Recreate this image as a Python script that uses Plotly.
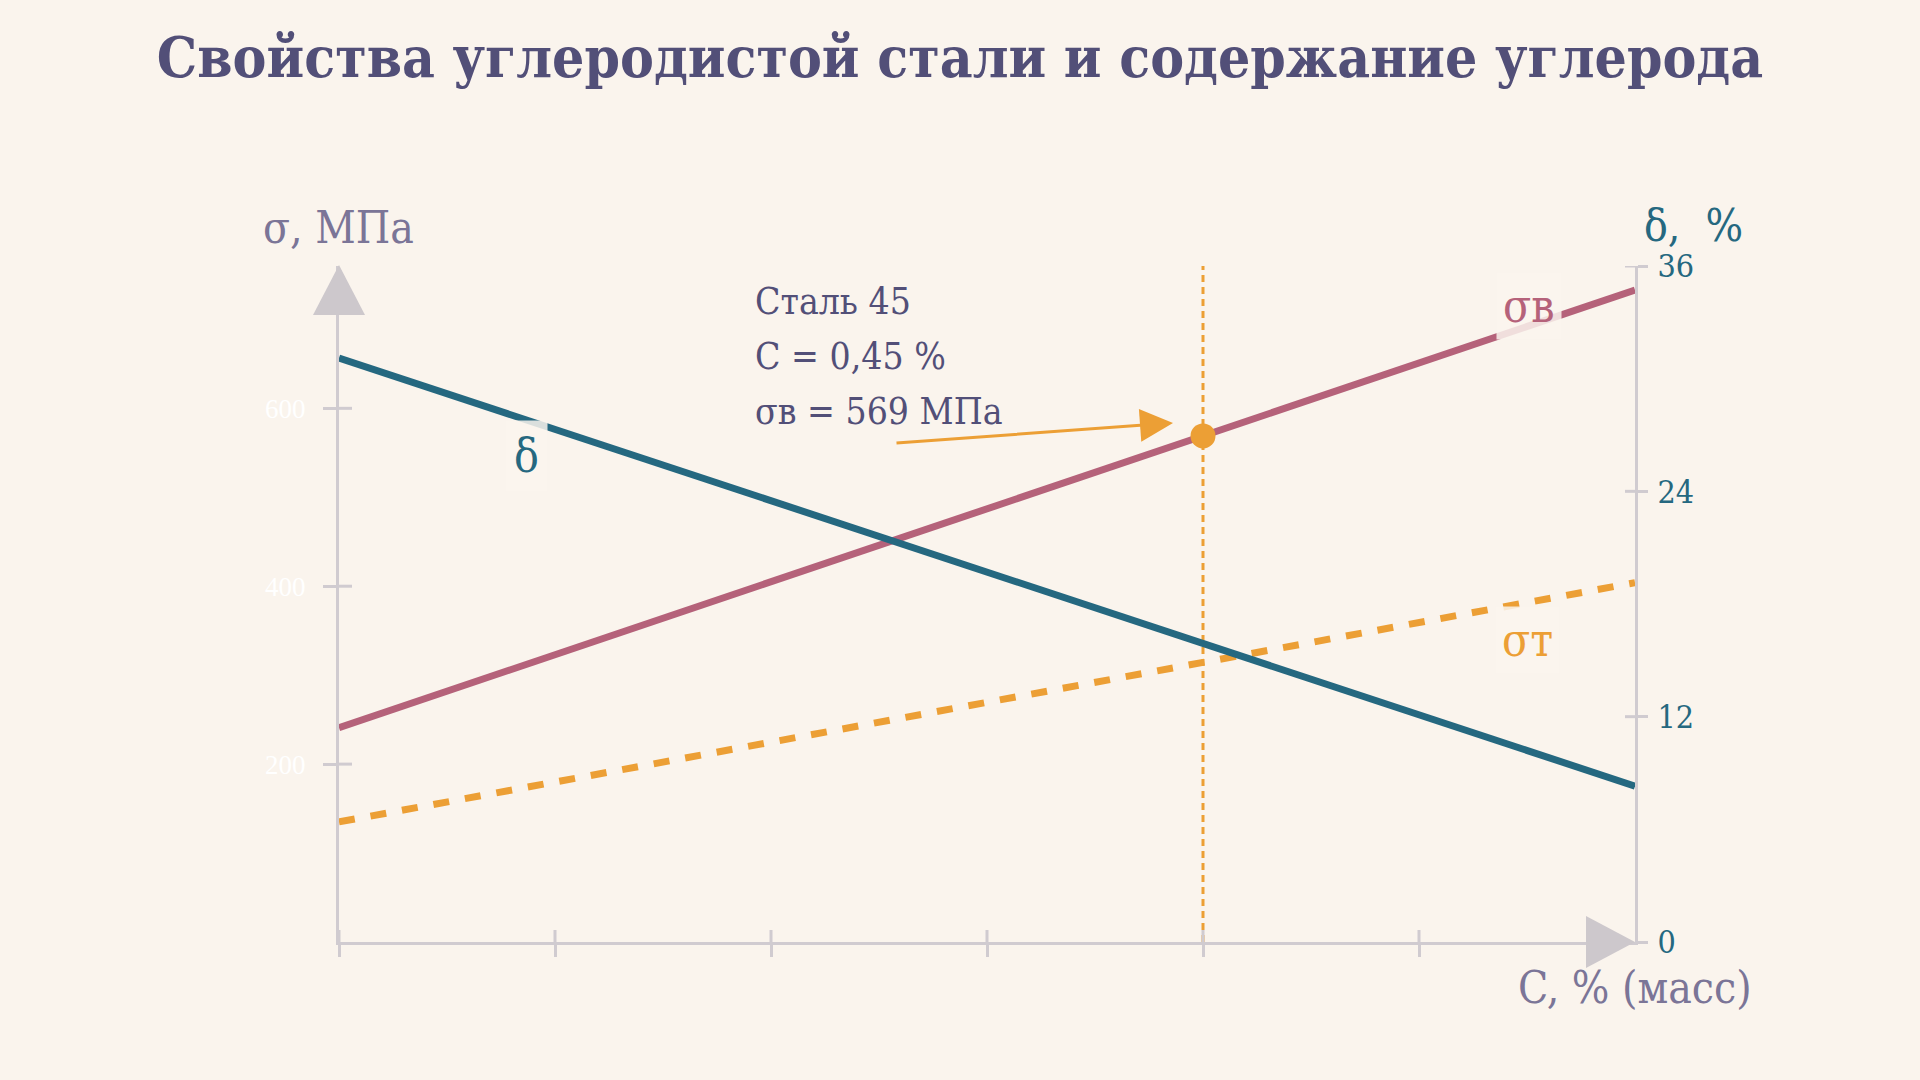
import plotly.graph_objects as go

# ---------------- data ----------------
carbon = [0.05, 0.15, 0.25, 0.35, 0.45, 0.55, 0.65]          # C, % (mass)
sigma_b = [241, 323, 405, 487, 569, 651, 733]                 # ultimate strength, MPa
sigma_t = [135, 180, 225, 270, 315, 359, 404]                 # yield strength, MPa
delta = [31.1, 27.3, 23.5, 19.7, 15.9, 12.1, 8.3]             # elongation, %

steel_c = [0.45]
steel_sb = [569]

left_ticks = [200, 400, 600]
right_ticks = [0, 12, 24, 36]
x_ticks = [0.05, 0.15, 0.25, 0.35, 0.45, 0.55]

title_text = "Свойства углеродистой стали и содержание углерода"

# ---------------- style ----------------
BG = "#faf4ed"
GRID = "#d0cbd0"
ARROW = "#cdc8cc"
TITLE = "#524f78"
AXT = "#7b7597"
TEAL = "#256880"
PINK = "#b5627a"
ORANGE = "#ec9f35"
SERIF = "DejaVu Serif Condensed, DejaVu Serif, serif"

W, H = 1920, 1080
L, R, T, B = 339, 285, 266, 138
PW, PH = W - L - R, H - T - B


def px(xp):
    return (xp - L) / PW


def py(yp):
    return (H - B - yp) / PH


fig = go.Figure()

fig.add_trace(go.Scatter(x=carbon, y=sigma_t, mode="lines", name="σт",
                         line=dict(color=ORANGE, width=7, dash="16px,16px"),
                         yaxis="y", hoverinfo="skip"))
fig.add_trace(go.Scatter(x=carbon, y=sigma_b, mode="lines", name="σв",
                         line=dict(color=PINK, width=7),
                         yaxis="y", hoverinfo="skip"))
fig.add_trace(go.Scatter(x=carbon, y=delta, mode="lines", name="δ",
                         line=dict(color=TEAL, width=7),
                         yaxis="y2", hoverinfo="skip"))
fig.add_trace(go.Scatter(x=steel_c, y=steel_sb, mode="markers", name="Сталь 45",
                         marker=dict(color=ORANGE, size=25),
                         yaxis="y", hoverinfo="skip"))

shapes = []
# vertical reference line at C = 0.45
shapes.append(dict(type="line", xref="x", yref="paper", x0=steel_c[0], x1=steel_c[0],
                   y0=0, y1=1, layer="below",
                   line=dict(color=ORANGE, width=3, dash="7px,5px")))
# inner halves of ticks
for v in left_ticks:
    shapes.append(dict(type="line", xref="paper", yref="y", xsizemode="pixel", xanchor=0,
                       x0=0, x1=13, y0=v, y1=v, line=dict(color=GRID, width=3)))
for v in right_ticks[1:]:
    shapes.append(dict(type="line", xref="paper", yref="y2", xsizemode="pixel", xanchor=1,
                       x0=-10, x1=0, y0=v, y1=v, line=dict(color=GRID, width=3)))
for v in x_ticks:
    shapes.append(dict(type="line", xref="x", yref="paper", ysizemode="pixel", yanchor=0,
                       y0=0, y1=12, x0=v, x1=v, line=dict(color=GRID, width=3)))
# arrowheads of axes
shapes.append(dict(type="path", xref="paper", yref="paper", xsizemode="pixel", ysizemode="pixel",
                   xanchor=0, yanchor=1, path="M-26,-49 L26,-49 L0,1 Z",
                   fillcolor=ARROW, line=dict(width=0)))
shapes.append(dict(type="path", xref="paper", yref="paper", xsizemode="pixel", ysizemode="pixel",
                   xanchor=1, yanchor=0, path="M-49,-26 L-49,26 L0,0 Z",
                   fillcolor=ARROW, line=dict(width=0)))

ann = []
# axis titles
ann.append(dict(text="σ, МПа", xref="paper", yref="paper", x=px(338), y=py(227),
                xanchor="center", yanchor="middle", showarrow=False,
                font=dict(family=SERIF, size=44, color=AXT)))
ann.append(dict(text="δ,  %", xref="paper", yref="paper", x=px(1693), y=py(226),
                xanchor="center", yanchor="middle", showarrow=False,
                font=dict(family=SERIF, size=44, color=TEAL)))
ann.append(dict(text="C, % (масс)", xref="paper", yref="paper", x=px(1754), y=py(987),
                xanchor="right", yanchor="middle", showarrow=False,
                font=dict(family=SERIF, size=44, color=AXT)))
# series labels
lab_bg = "rgba(250,244,237,0.85)"
ann.append(dict(text="δ", xref="x", yref="y2", x=0.137, y=25.9, showarrow=False,
                font=dict(family=SERIF, size=46, color=TEAL), bgcolor=lab_bg, borderpad=8))
ann.append(dict(text="σв", xref="x", yref="y", x=0.601, y=715, showarrow=False,
                font=dict(family=SERIF, size=46, color=PINK), bgcolor=lab_bg, borderpad=6))
ann.append(dict(text="σт", xref="x", yref="y", x=0.600, y=339, showarrow=False,
                font=dict(family=SERIF, size=46, color=ORANGE), bgcolor=lab_bg, borderpad=6))
# callout text
for txt, yy in [("Сталь 45", 301), ("С = 0,45 %", 356), ("σв = 569 МПа", 411)]:
    ann.append(dict(text=txt, xref="paper", yref="paper", x=px(753), y=py(yy),
                    xanchor="left", yanchor="middle", showarrow=False,
                    font=dict(family=SERIF, size=37, color=TITLE)))
# callout arrow
ann.append(dict(text="", xref="paper", yref="paper", x=px(1173), y=py(423),
                ax=-278, ay=20, showarrow=True, arrowhead=2, arrowsize=2.2,
                arrowwidth=3, arrowcolor=ORANGE))

fig.update_layout(
    width=W, height=H,
    paper_bgcolor=BG, plot_bgcolor=BG,
    margin=dict(l=L, r=R, t=T, b=B, autoexpand=False),
    showlegend=False,
    title=dict(text="<b>" + title_text + "</b>", x=0.5, xanchor="center",
               y=1 - 57 / H, yanchor="middle",
               font=dict(family=SERIF, size=56.5, color=TITLE)),
    xaxis=dict(range=[0.05, 0.65], showgrid=False, zeroline=False,
               showline=True, linecolor=GRID, linewidth=3,
               tickvals=x_ticks, ticks="outside", ticklen=12, tickwidth=3, tickcolor=GRID,
               showticklabels=False, fixedrange=True),
    yaxis=dict(range=[0, 760], showgrid=False, zeroline=False,
               showline=True, linecolor=GRID, linewidth=3,
               tickvals=left_ticks, ticks="outside", ticklen=13, tickwidth=3, tickcolor=GRID,
               ticklabelstandoff=12,
               tickfont=dict(family="Liberation Serif, serif", size=27, color="#ffffff")),
    yaxis2=dict(range=[0, 36], overlaying="y", side="right", showgrid=False, zeroline=False,
                showline=True, linecolor=GRID, linewidth=3,
                tickvals=right_ticks, ticks="outside", ticklen=10, tickwidth=3, tickcolor=GRID,
                ticklabelstandoff=3,
                tickfont=dict(family=SERIF, size=32, color=TEAL)),
    shapes=shapes,
    annotations=ann,
)

fig.write_html("out.html",
               config={"displayModeBar": False},
               post_script="document.body.style.margin='0';"
                           "document.body.style.background='#faf4ed';")
